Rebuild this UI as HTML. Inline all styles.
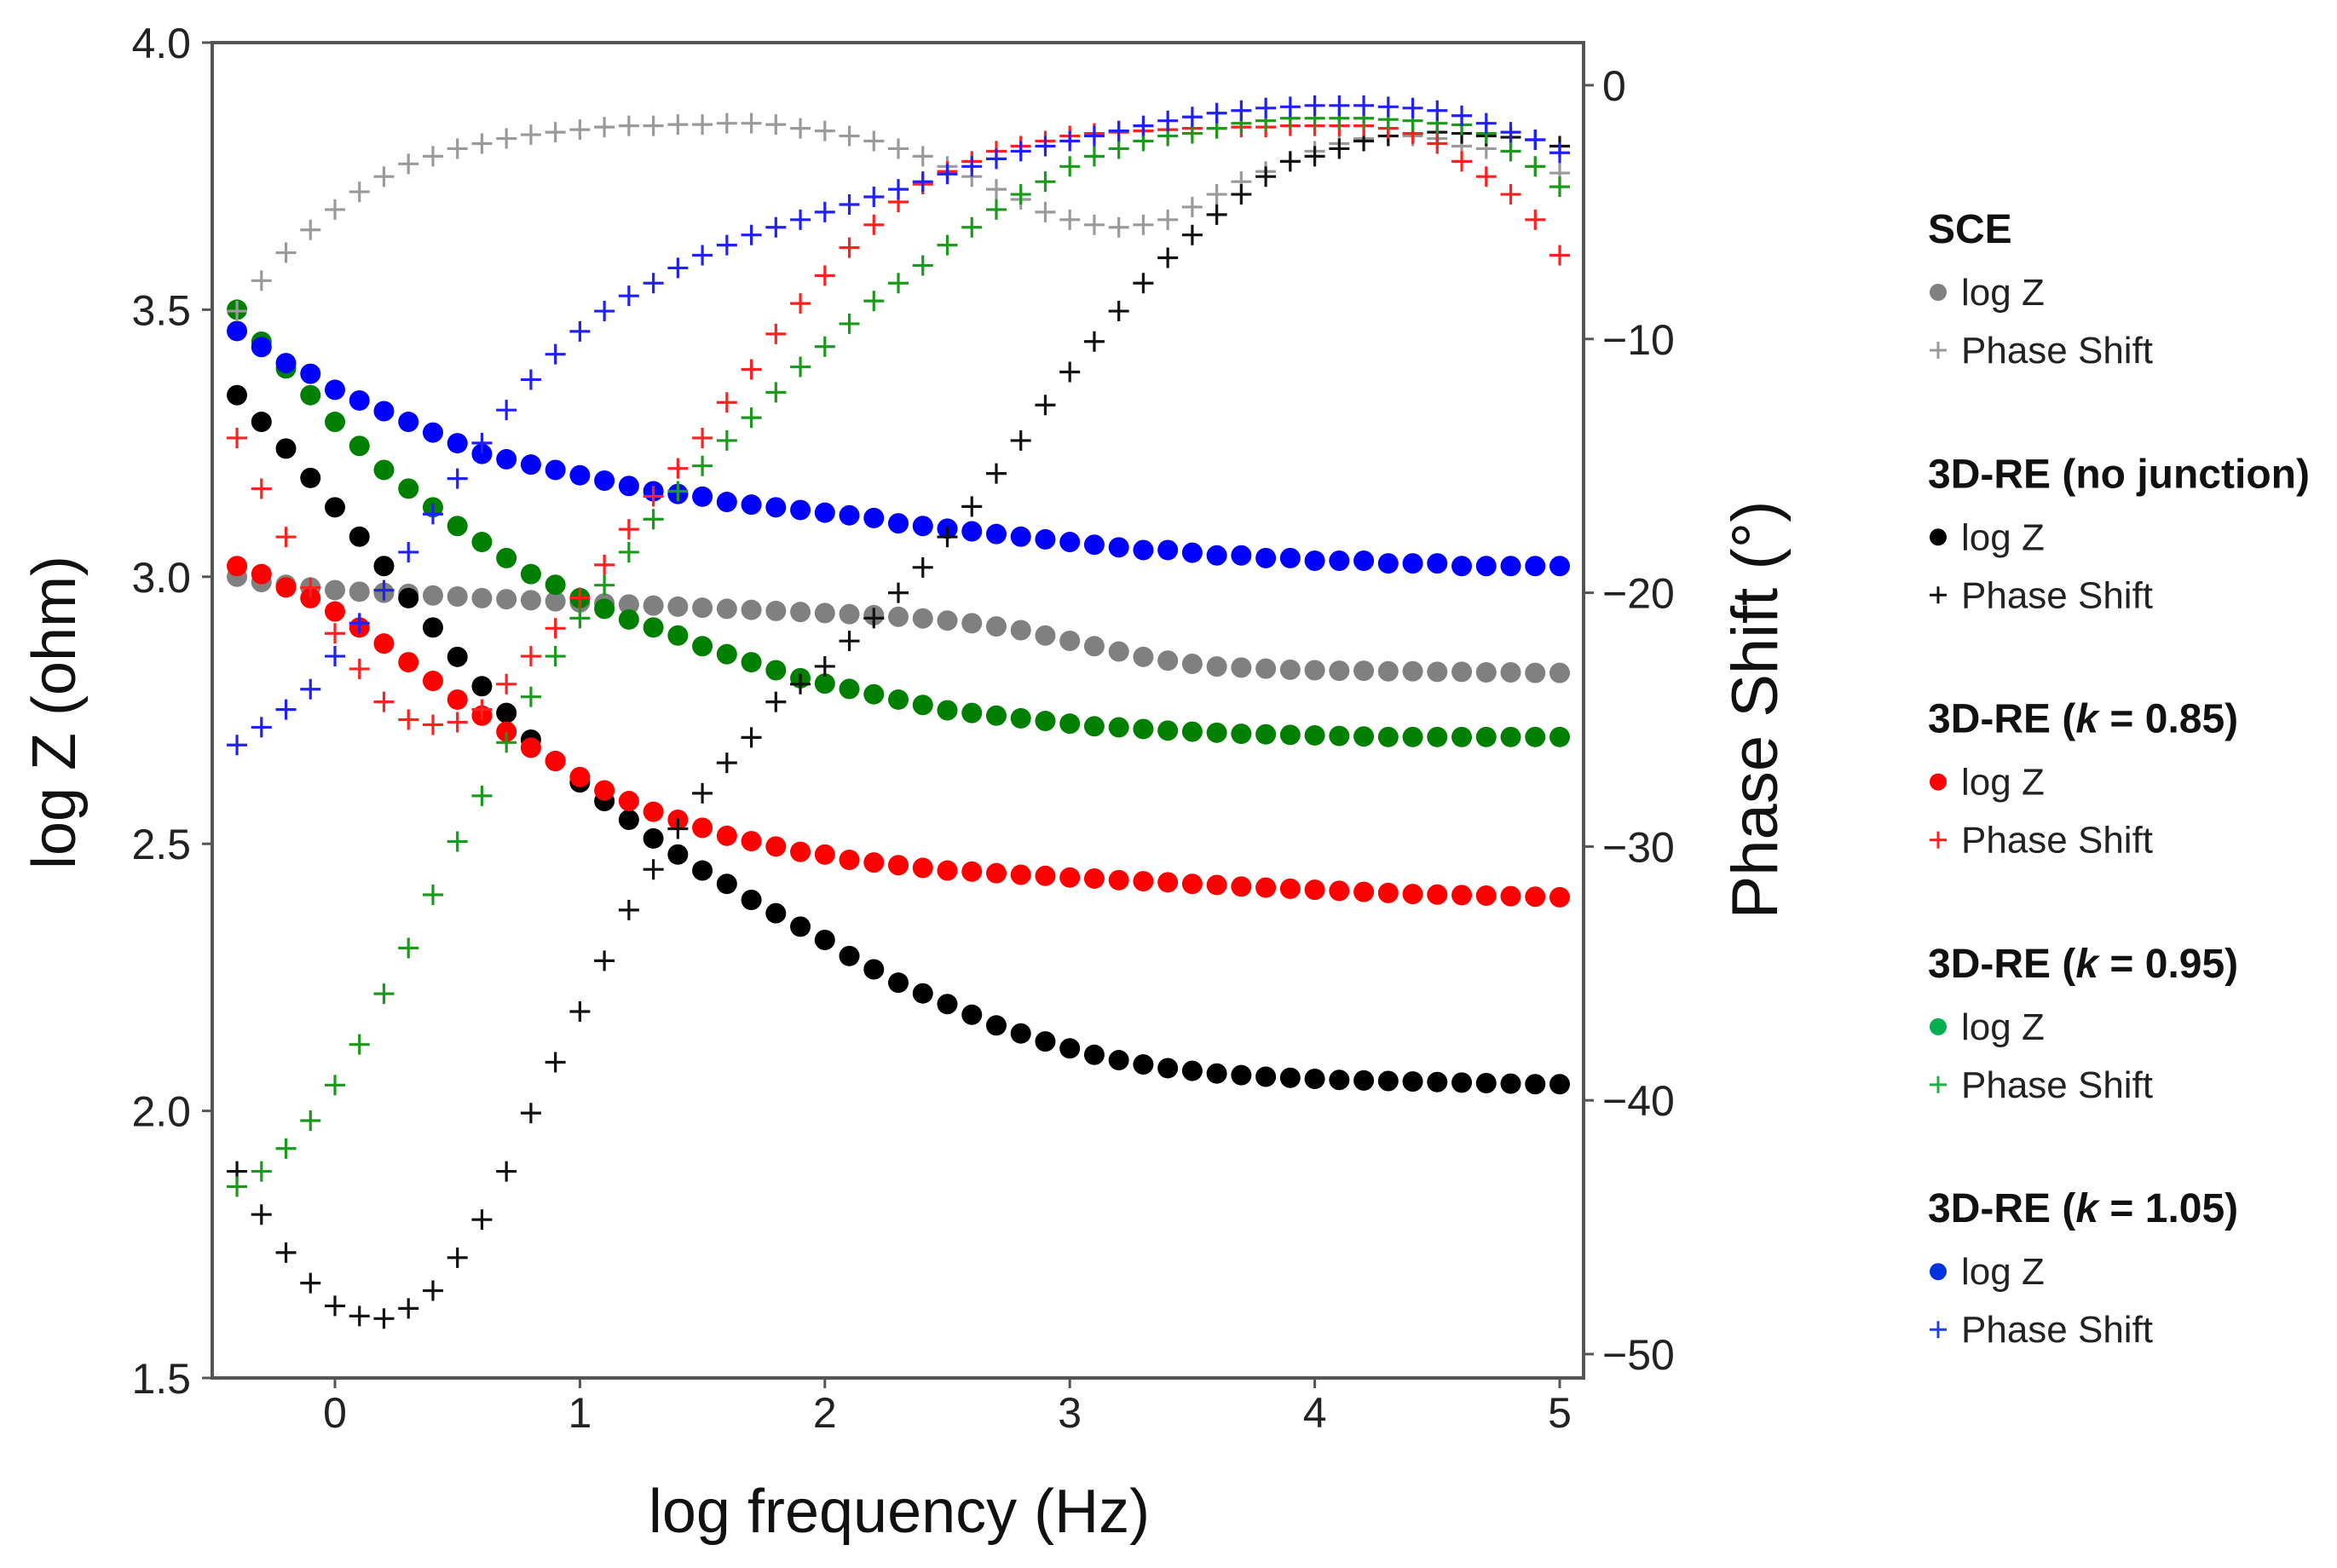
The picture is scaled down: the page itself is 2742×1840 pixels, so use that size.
<!DOCTYPE html>
<html><head><meta charset="utf-8"><style>
html,body{margin:0;padding:0;background:#fff;}
svg{display:block;font-family:"Liberation Sans",sans-serif;}
</style></head><body>
<svg id="chart" width="2742" height="1840" viewBox="0 0 2742 1840" xmlns="http://www.w3.org/2000/svg">
<g id="marks"></g>
<g id="axes"></g>
<g id="legend"></g>
</svg>
<script>
const logFreq = [-0.4,-0.3,-0.2,-0.1,0,0.1,0.2,0.3,0.4,0.5,0.6,0.7,0.8,0.9,1.0,1.1,1.2,1.3,1.4,1.5,1.6,1.7,1.8,1.9,2.0,2.1,2.2,2.3,2.4,2.5,2.6,2.7,2.8,2.9,3.0,3.1,3.2,3.3,3.4,3.5,3.6,3.7,3.8,3.9,4.0,4.1,4.2,4.3,4.4,4.5,4.6,4.7,4.8,4.9,5.0];
const sceLogZ = [3.00,2.99,2.985,2.98,2.975,2.972,2.97,2.968,2.965,2.963,2.96,2.958,2.956,2.954,2.952,2.95,2.948,2.946,2.944,2.942,2.94,2.938,2.936,2.934,2.932,2.93,2.928,2.925,2.922,2.918,2.913,2.907,2.90,2.89,2.88,2.87,2.86,2.85,2.843,2.837,2.832,2.83,2.828,2.826,2.825,2.824,2.824,2.823,2.823,2.822,2.822,2.821,2.821,2.82,2.82];
const scePhase = [-8.9,-7.7,-6.6,-5.7,-4.9,-4.2,-3.6,-3.1,-2.8,-2.5,-2.3,-2.1,-1.95,-1.85,-1.75,-1.65,-1.6,-1.6,-1.55,-1.55,-1.5,-1.5,-1.55,-1.7,-1.8,-2.0,-2.2,-2.5,-2.8,-3.2,-3.6,-4.1,-4.5,-5.0,-5.3,-5.5,-5.6,-5.5,-5.3,-4.8,-4.3,-3.8,-3.4,-3.0,-2.6,-2.3,-2.1,-2.0,-2.0,-2.1,-2.4,-2.5,-2.6,-3.2,-3.46];
const njLogZ = [3.34,3.29,3.24,3.185,3.13,3.075,3.02,2.96,2.905,2.85,2.795,2.745,2.695,2.655,2.615,2.58,2.545,2.51,2.48,2.45,2.425,2.395,2.37,2.345,2.32,2.29,2.265,2.24,2.22,2.20,2.18,2.16,2.145,2.13,2.117,2.105,2.095,2.087,2.08,2.075,2.07,2.067,2.064,2.062,2.06,2.058,2.057,2.056,2.055,2.054,2.053,2.052,2.051,2.05,2.05];
const njPhase = [-42.8,-44.5,-46.0,-47.2,-48.1,-48.5,-48.6,-48.2,-47.5,-46.2,-44.7,-42.8,-40.5,-38.5,-36.5,-34.5,-32.5,-30.9,-29.3,-27.9,-26.7,-25.7,-24.3,-23.6,-22.9,-21.9,-21.0,-20.0,-19.0,-17.8,-16.6,-15.3,-14.0,-12.6,-11.3,-10.1,-8.9,-7.8,-6.8,-5.9,-5.1,-4.3,-3.6,-3.0,-2.8,-2.5,-2.2,-2.0,-1.9,-1.85,-1.9,-2.0,-2.05,-2.15,-2.4];
const k085LogZ = [3.02,3.005,2.98,2.96,2.935,2.905,2.875,2.84,2.805,2.77,2.74,2.71,2.68,2.655,2.625,2.60,2.58,2.56,2.545,2.53,2.515,2.505,2.495,2.485,2.48,2.47,2.465,2.46,2.455,2.45,2.448,2.445,2.442,2.44,2.437,2.435,2.432,2.43,2.428,2.425,2.423,2.42,2.418,2.416,2.414,2.412,2.41,2.408,2.406,2.405,2.404,2.403,2.402,2.401,2.40];
const k085Phase = [-13.9,-15.9,-17.8,-19.8,-21.6,-23.0,-24.3,-25.0,-25.2,-25.1,-24.6,-23.6,-22.5,-21.4,-20.2,-18.9,-17.5,-16.2,-15.1,-13.9,-12.5,-11.2,-9.8,-8.6,-7.5,-6.4,-5.5,-4.6,-3.9,-3.4,-3.0,-2.6,-2.4,-2.2,-2.0,-1.9,-1.85,-1.8,-1.75,-1.7,-1.7,-1.65,-1.65,-1.6,-1.6,-1.6,-1.6,-1.7,-1.9,-2.3,-3.0,-3.6,-4.3,-5.3,-6.7];
const k095LogZ = [3.50,3.44,3.39,3.34,3.29,3.245,3.20,3.165,3.13,3.095,3.065,3.035,3.005,2.985,2.96,2.94,2.92,2.905,2.89,2.87,2.855,2.84,2.825,2.81,2.80,2.79,2.78,2.77,2.76,2.75,2.745,2.74,2.735,2.73,2.725,2.72,2.718,2.715,2.712,2.71,2.708,2.706,2.705,2.704,2.703,2.702,2.701,2.70,2.70,2.70,2.70,2.70,2.70,2.70,2.70];
const k095Phase = [-43.4,-42.8,-41.9,-40.8,-39.4,-37.8,-35.8,-34.0,-31.9,-29.8,-28.0,-25.9,-24.1,-22.5,-21.0,-19.7,-18.4,-17.1,-16.0,-15.0,-14.0,-13.1,-12.1,-11.1,-10.3,-9.4,-8.5,-7.8,-7.1,-6.3,-5.6,-4.9,-4.3,-3.8,-3.2,-2.8,-2.5,-2.2,-2.0,-1.9,-1.7,-1.5,-1.4,-1.3,-1.3,-1.3,-1.3,-1.35,-1.4,-1.5,-1.56,-1.9,-2.6,-3.2,-4.0];
const k105LogZ = [3.46,3.43,3.40,3.38,3.35,3.33,3.31,3.29,3.27,3.25,3.23,3.22,3.21,3.20,3.19,3.18,3.17,3.16,3.155,3.15,3.14,3.135,3.13,3.125,3.12,3.115,3.11,3.10,3.095,3.09,3.085,3.08,3.075,3.07,3.065,3.06,3.055,3.05,3.05,3.045,3.04,3.04,3.035,3.035,3.03,3.03,3.03,3.025,3.025,3.025,3.02,3.02,3.02,3.02,3.02];
const k105Phase = [-26.0,-25.3,-24.6,-23.8,-22.5,-21.2,-19.9,-18.4,-16.9,-15.5,-14.1,-12.8,-11.6,-10.6,-9.7,-8.9,-8.3,-7.8,-7.2,-6.7,-6.3,-5.9,-5.6,-5.3,-5.0,-4.7,-4.4,-4.1,-3.8,-3.5,-3.2,-2.9,-2.6,-2.4,-2.2,-2.0,-1.8,-1.6,-1.4,-1.25,-1.1,-1.0,-0.9,-0.85,-0.8,-0.8,-0.8,-0.85,-0.9,-1.0,-1.2,-1.5,-1.85,-2.15,-2.66];
const xTicks = [0,1,2,3,4,5];
const yLeftTicks = [1.5,2.0,2.5,3.0,3.5,4.0];
const yRightTicks = [0,-10,-20,-30,-40,-50];

const NS = "http://www.w3.org/2000/svg";
const L=249, R=1858, T=50, B=1617;
const xs = v => 393 + v*287.4;
const yl = v => B - (v-1.5)*(B-T)/2.5;
const yr = v => 100 - v*29.78;
function mk(tag, attrs, parent){const e=document.createElementNS(NS,tag);for(const k in attrs)e.setAttribute(k,attrs[k]);parent.appendChild(e);return e;}
const marks=document.getElementById('marks'), axes=document.getElementById('axes'), legend=document.getElementById('legend');

const series = [
 {name:'sce', z:sceLogZ, p:scePhase, zc:'#808080', pc:'#9a9a9a'},
 {name:'no-junction', z:njLogZ, p:njPhase, zc:'#000000', pc:'#111111'},
 {name:'k085', z:k085LogZ, p:k085Phase, zc:'#ff0000', pc:'#ff2020'},
 {name:'k095', z:k095LogZ, p:k095Phase, zc:'#008000', pc:'#1a9a1a'},
 {name:'k105', z:k105LogZ, p:k105Phase, zc:'#0000ff', pc:'#2020ff'}
];
series.forEach(s=>{
  const g=mk('g',{},marks);
  
  
  s.z.forEach((v,i)=>{
    const c=mk('circle',{cx:xs(logFreq[i]),cy:yl(v),r:12,fill:s.zc},g);
    
    
  });
});
series.forEach(s=>{
  const g=mk('g',{},marks);
  
  
  s.p.forEach((v,i)=>{
    const x=xs(logFreq[i]), y=yr(v);
    const p=mk('path',{d:`M${x-12},${y}H${x+12}M${x},${y-12}V${y+12}`,stroke:s.pc,'stroke-width':3.2,fill:'none'},g);
    
    
  });
});
const frame=mk('rect',{x:L,y:T,width:R-L,height:B-T,fill:'none',stroke:'#555','stroke-width':4},axes);


xTicks.forEach(t=>{
  const x=xs(t);
  mk('line',{x1:x,y1:B,x2:x,y2:B+12,stroke:'#555','stroke-width':3},axes);
  const tx=mk('text',{x:x,y:B+58,'font-size':50,'text-anchor':'middle',fill:'#222'},axes);
  tx.textContent=t;
  
  
});
yLeftTicks.forEach(t=>{
  const y=yl(t);
  mk('line',{x1:L-12,y1:y,x2:L,y2:y,stroke:'#555','stroke-width':3},axes);
  const tx=mk('text',{x:224,y:y+18,'font-size':50,'text-anchor':'end',fill:'#222'},axes);
  tx.textContent=t.toFixed(1);
  
  
});
yRightTicks.forEach(t=>{
  const y=yr(t);
  mk('line',{x1:R,y1:y,x2:R+12,y2:y,stroke:'#555','stroke-width':3},axes);
  const tx=mk('text',{x:1880,y:y+18,'font-size':50,'text-anchor':'start',fill:'#222'},axes);
  tx.textContent=t===0?'0':'\u2212'+Math.abs(t);
  
  
});
</script>
<script>
(function(){
const NS="http://www.w3.org/2000/svg";
const svg=document.getElementById('chart');
function t(x,y,txt,attrs,name){const e=document.createElementNS(NS,'text');e.setAttribute('x',x);e.setAttribute('y',y);for(const k in attrs)e.setAttribute(k,attrs[k]);e.innerHTML=txt;


svg.appendChild(e);return e;}
t(1055,1798,'log frequency (Hz)',{'font-size':72,'text-anchor':'middle',fill:'#111'},'x-axis-title');
t(88,836,'log Z (ohm)',{'font-size':72,'text-anchor':'middle',fill:'#111',transform:'rotate(-90 88 836)'},'y-left-axis-title');
t(2085,833,'Phase Shift (°)',{'font-size':76,'text-anchor':'middle',fill:'#111',transform:'rotate(-90 2085 833)'},'y-right-axis-title');
const groups=[['SCE','#808080','#9a9a9a'],['3D-RE (no junction)','#000','#111'],['3D-RE (<tspan font-style="italic">k</tspan> = 0.85)','#ff0000','#ff2020'],['3D-RE (<tspan font-style="italic">k</tspan> = 0.95)','#00b050','#20b040'],['3D-RE (<tspan font-style="italic">k</tspan> = 1.05)','#0033dd','#2040ee']];
const lg=document.getElementById('legend');
groups.forEach((g,i)=>{
  const y0=268+i*287.3;
  t(2262,y0+17,g[0],{'font-size':48,'font-weight':'bold',fill:'#111'},'legend-group-title');
  const c=document.createElementNS(NS,'circle');c.setAttribute('cx',2274);c.setAttribute('cy',y0+75);c.setAttribute('r',10);c.setAttribute('fill',g[1]);
  
  
  lg.appendChild(c);
  t(2301,y0+90,'log Z',{'font-size':44,fill:'#222'},'legend-logz-label');
  const p=document.createElementNS(NS,'path');p.setAttribute('d',`M2264,${y0+143}H2284M2274,${y0+133}V${y0+153}`);p.setAttribute('stroke',g[2]);p.setAttribute('stroke-width',3);
  
  
  lg.appendChild(p);
  t(2301,y0+158,'Phase Shift',{'font-size':44,fill:'#222'},'legend-phase-label');
});
})();
</script>
</body></html>
